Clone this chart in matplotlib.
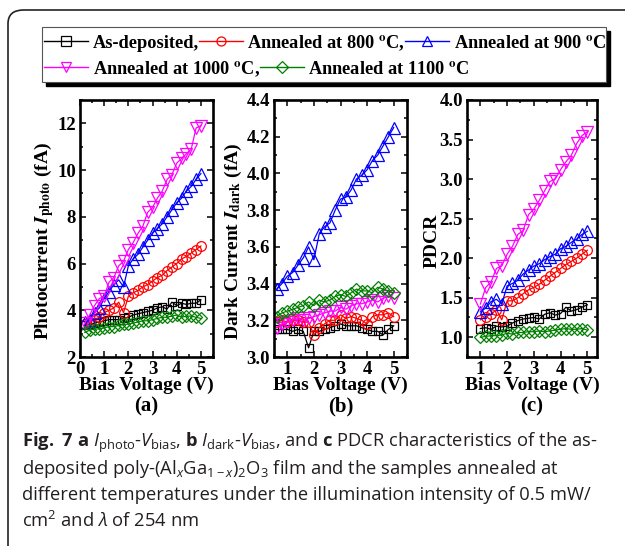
import matplotlib
matplotlib.use("Agg")
import matplotlib.pyplot as plt
from matplotlib.patches import FancyBboxPatch, Rectangle
from matplotlib.lines import Line2D
from matplotlib.ticker import MultipleLocator, FormatStrFormatter

plt.rcParams.update({
    "mathtext.fontset": "custom",
    "mathtext.rm": "Open Sans:weight=normal",
    "mathtext.it": "Open Sans:style=italic:weight=normal",
    "mathtext.bf": "Open Sans:weight=bold",
    "font.family": "Liberation Serif",
    "font.weight": "bold",
})

# ---------------- data ----------------
labels = ["As-deposited,", "Annealed at 800 $^{\\mathrm{o}}$C,", "Annealed at 900 $^{\\mathrm{o}}$C",
          "Annealed at 1000 $^{\\mathrm{o}}$C,", "Annealed at 1100 $^{\\mathrm{o}}$C"]
colors = ["#000000", "#ff0000", "#0000ff", "#ff00ff", "#008000"]
markers = ["s", "o", "^", "v", "D"]

# (a) photocurrent (fA)
xa = [0.2, 0.4, 0.6, 0.8, 1.0, 1.2, 1.4, 1.6, 1.8, 2.0, 2.2, 2.4, 2.6, 2.8, 3.0,
      3.2, 3.4, 3.6, 3.8, 4.0, 4.2, 4.4, 4.6, 4.8, 5.0]
photo_asdep = [3.35, 3.4, 3.45, 3.5, 3.55, 3.6, 3.6, 3.6, 3.65, 3.7, 3.8, 3.85, 3.9, 3.95, 4.0,
               4.1, 4.15, 4.05, 4.35, 4.2, 4.3, 4.25, 4.3, 4.3, 4.45]
photo_800 = [3.4, 3.5, 3.6, 3.7, 3.9, 4.0, 4.1, 4.35, 3.9, 4.6, 4.75, 4.85, 5.0, 5.1, 5.25,
             5.4, 5.5, 5.7, 5.85, 6.0, 6.2, 6.3, 6.45, 6.6, 6.75]
photo_900 = [3.5, 3.6, 3.9, 4.1, 4.5, 4.8, 5.1, 5.3, 5.0, 5.9, 6.2, 6.4, 6.7, 7.0, 7.3,
             7.5, 7.7, 8.0, 8.3, 8.6, 8.8, 9.1, 9.3, 9.6, 9.85]
photo_1000 = [3.45, 3.8, 4.2, 4.5, 4.6, 5.2, 5.4, 5.9, 6.1, 6.6, 6.9, 7.3, 7.6, 8.2, 8.4,
              8.8, 9.1, 9.6, 9.8, 10.3, 10.5, 10.7, 10.9, 11.8, 11.9]
photo_1100 = [3.05, 3.15, 3.2, 3.2, 3.25, 3.3, 3.3, 3.35, 3.4, 3.4, 3.45, 3.5, 3.55, 3.55, 3.6,
              3.65, 3.7, 3.7, 3.75, 3.8, 3.7, 3.75, 3.75, 3.7, 3.65]

# (b) dark current (fA)
xb = [0.6, 0.8, 1.0, 1.2, 1.4, 1.6, 1.8, 2.0, 2.2, 2.4, 2.6, 2.8, 3.0, 3.2, 3.4,
      3.6, 3.8, 4.0, 4.2, 4.4, 4.6, 4.8, 5.0]
dark_asdep = [3.15, 3.15, 3.15, 3.14, 3.15, 3.14, 3.05, 3.14, 3.14, 3.15, 3.16, 3.17, 3.18, 3.17, 3.17,
              3.17, 3.16, 3.15, 3.14, 3.14, 3.12, 3.15, 3.17]
dark_800 = [3.19, 3.20, 3.19, 3.20, 3.20, 3.19, 3.19, 3.12, 3.16, 3.18, 3.20, 3.20, 3.23, 3.21, 3.22,
            3.21, 3.20, 3.18, 3.22, 3.23, 3.23, 3.24, 3.22]
dark_900 = [3.37, 3.40, 3.44, 3.46, 3.50, 3.54, 3.60, 3.53, 3.67, 3.71, 3.73, 3.80, 3.86, 3.87, 3.91,
            3.97, 3.99, 4.02, 4.07, 4.10, 4.15, 4.20, 4.25]
dark_1000 = [3.16, 3.18, 3.19, 3.20, 3.21, 3.20, 3.21, 3.22, 3.23, 3.24, 3.25, 3.25, 3.27, 3.26, 3.28,
             3.29, 3.29, 3.30, 3.31, 3.30, 3.32, 3.33, 3.32]
dark_1100 = [3.22, 3.24, 3.25, 3.26, 3.27, 3.28, 3.30, 3.28, 3.31, 3.30, 3.31, 3.33, 3.34, 3.33, 3.35,
             3.37, 3.36, 3.36, 3.35, 3.38, 3.37, 3.36, 3.35]

# (c) PDCR
xc = [1.0, 1.2, 1.4, 1.6, 1.8, 2.0, 2.2, 2.4, 2.6, 2.8, 3.0, 3.2, 3.4, 3.6, 3.8,
      4.0, 4.2, 4.4, 4.6, 4.8, 5.0]
pdcr_asdep = [1.11, 1.12, 1.10, 1.14, 1.13, 1.14, 1.18, 1.21, 1.23, 1.24, 1.25, 1.23, 1.29, 1.31, 1.28,
              1.30, 1.38, 1.33, 1.35, 1.38, 1.41]
pdcr_800 = [1.22, 1.26, 1.29, 1.35, 1.22, 1.46, 1.46, 1.50, 1.55, 1.60, 1.63, 1.67, 1.72, 1.77, 1.82,
            1.87, 1.92, 1.96, 2.00, 2.05, 2.10]
pdcr_900 = [1.32, 1.37, 1.45, 1.48, 1.42, 1.65, 1.68, 1.72, 1.80, 1.85, 1.90, 1.93, 1.98, 2.02, 2.05,
            2.12, 2.15, 2.20, 2.24, 2.30, 2.34]
pdcr_1000 = [1.42, 1.63, 1.70, 1.87, 1.90, 2.05, 2.15, 2.30, 2.35, 2.55, 2.62, 2.73, 2.85, 2.97, 3.00,
             3.12, 3.22, 3.30, 3.45, 3.55, 3.60]
pdcr_1100 = [1.00, 1.01, 1.02, 1.02, 1.03, 1.05, 1.04, 1.06, 1.06, 1.07, 1.07, 1.08, 1.07, 1.08, 1.09,
             1.10, 1.11, 1.10, 1.10, 1.11, 1.09]

# ---------------- figure ----------------
W, H = 625, 546
fig = plt.figure(figsize=(W / 100, H / 100), dpi=100)
SERIF = "Liberation Serif"


def add_ax(l, t, r, b):
    return fig.add_axes([l / W, 1 - b / H, (r - l) / W, (b - t) / H])


def style(ax, xlim, ylim, ymaj, ymin, yfmt, xticks):
    ax.set_xlim(*xlim)
    ax.set_ylim(*ylim)
    ax.xaxis.set_major_locator(MultipleLocator(1))
    ax.xaxis.set_minor_locator(MultipleLocator(0.5))
    ax.yaxis.set_major_locator(MultipleLocator(ymaj))
    ax.yaxis.set_minor_locator(MultipleLocator(ymin))
    ax.yaxis.set_major_formatter(FormatStrFormatter(yfmt))
    ax.set_xticks(xticks)
    ax.tick_params(which="both", direction="in", top=True, right=True, width=1.1,
                   labelsize=13.5, pad=3)
    ax.tick_params(which="major", length=4)
    ax.tick_params(which="minor", length=2.5)
    for s in ax.spines.values():
        s.set_linewidth(1.9)
    for lab in ax.get_xticklabels() + ax.get_yticklabels():
        lab.set_fontweight("bold")
        lab.set_fontfamily(SERIF)
    ax.set_xlabel("Bias Voltage (V)", fontsize=14, fontweight="bold", labelpad=-1)


def plot_set(ax, x, series):
    for y, c, m in zip(series, colors, markers):
        ms = {"s": 6.0, "o": 7.0, "^": 8.0, "v": 8.0, "D": 6.0}[m]
        ax.plot(x, y, color=c, marker=m, ms=ms, mfc="none", mec=c, mew=0.9, lw=0.9, clip_on=True)


axa = add_ax(80, 100, 213, 357)
plot_set(axa, xa, [photo_asdep, photo_800, photo_900, photo_1000, photo_1100])
style(axa, (0, 5.5), (2, 13), 2, 1, "%d", [0, 1, 2, 3, 4, 5])
axa.set_ylabel(r"Photocurrent $\mathit{I}_{\mathrm{photo}}$ (fA)", fontsize=14, fontweight="bold", labelpad=0.5)

axb = add_ax(274, 100, 407, 357)
plot_set(axb, xb, [dark_asdep, dark_800, dark_900, dark_1000, dark_1100])
style(axb, (0.5, 5.5), (3.0, 4.4), 0.2, 0.1, "%.1f", [1, 2, 3, 4, 5])
axb.set_ylabel(r"Dark Current $\mathit{I}_{\mathrm{dark}}$ (fA)", fontsize=14, fontweight="bold", labelpad=2)

axc = add_ax(467, 100, 597, 357)
plot_set(axc, xc, [pdcr_asdep, pdcr_800, pdcr_900, pdcr_1000, pdcr_1100])
style(axc, (0.5, 5.36), (0.75, 4.0), 0.5, 0.25, "%.1f", [1, 2, 3, 4, 5])
axc.set_ylabel("PDCR", fontsize=14, fontweight="bold", labelpad=-1)

for ax in [axa, axb, axc]:
    ax.yaxis.label.set_math_fontfamily("stix")
    ax.yaxis.label.set_y(0.45)

for ax, t in zip([axa, axb, axc], ["(a)", "(b)", "(c)"]):
    bb = ax.get_position()
    fig.text(bb.x0 + bb.width / 2, 1 - 406 / H, t, ha="center", va="center",
             fontsize=15, fontweight="bold", family=SERIF)

# ---------------- legend (two rows, custom frame with shadow) ----------------
handles = [Line2D([], [], color=c, marker=m, ms=6.5, mfc="none", mec=c, mew=0.9, lw=1.0)
           for c, m in zip(colors, markers)]
lx0, ly0, lx1, ly1 = 42, 27, 606, 82
fig.patches.append(Rectangle((lx0 / W + 4 / W, 1 - (ly1 + 4) / H), (lx1 - lx0) / W, (ly1 - ly0) / H,
                             transform=fig.transFigure, facecolor="black", edgecolor="black", zorder=1))
fig.patches.append(Rectangle((lx0 / W, 1 - ly1 / H), (lx1 - lx0) / W, (ly1 - ly0) / H,
                             transform=fig.transFigure, facecolor="white", edgecolor="#555555",
                             lw=0.8, zorder=2))
common = dict(frameon=False, handlelength=2.4, handletextpad=0.25, columnspacing=0.0,
              borderpad=0, borderaxespad=0, loc="upper left",
              prop={"family": SERIF, "weight": "bold", "size": 13.2})
leg1 = fig.legend(handles[:3], labels[:3], ncol=3, bbox_to_anchor=(44 / W, 1 - 33 / H), **common)
leg2 = fig.legend(handles[3:], labels[3:], ncol=2, bbox_to_anchor=(44 / W, 1 - 59 / H), **common)
for lg in (leg1, leg2):
    lg.set_zorder(5)
    for t in lg.get_texts():
        t.set_math_fontfamily("stix")

# ---------------- outer rounded frame ----------------
fig.patches.append(FancyBboxPatch((8 / W, -20 / H), 700 / W, (H - 10 + 20) / H,
                                  boxstyle="round,pad=0,rounding_size=0.025",
                                  transform=fig.transFigure, facecolor="none",
                                  edgecolor="#222222", lw=1.2, zorder=0))

# ---------------- caption ----------------
cap = [
    r"$\mathbf{Fig.\ 7\ a}$ $I_{\mathrm{photo}}$-$V_{\mathrm{bias}}$, $\mathbf{b}$ $I_{\mathrm{dark}}$-$V_{\mathrm{bias}}$, and $\mathbf{c}$ PDCR characteristics of the as-",
    r"deposited poly-(Al$_{x}$Ga$_{1-x}$)$_{2}$O$_{3}$ film and the samples annealed at",
    r"different temperatures under the illumination intensity of 0.5 mW/",
    r"cm$^{2}$ and $\lambda$ of 254 nm",
]
for i, line in enumerate(cap):
    fig.text(22 / W, 1 - (443 + 26 * i) / H, line, ha="left", va="center",
             fontsize=13.2, family="Open Sans", fontweight="normal", color="#231f20")

fig.savefig("out.png", dpi=100)
